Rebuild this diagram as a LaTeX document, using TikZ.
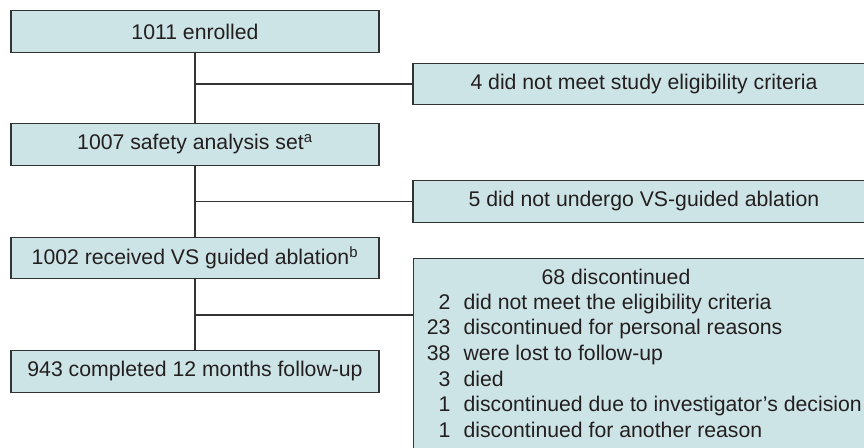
\documentclass[tikz,border=0pt]{standalone}
\usepackage{fontspec}
\setmainfont{Liberation Sans}
\usetikzlibrary{positioning}

\definecolor{boxfill}{RGB}{205,228,230}
\definecolor{boxline}{RGB}{51,51,51}
\definecolor{txt}{RGB}{35,31,32}

\tikzset{
  flowbox/.style={draw=boxline, fill=boxfill, line width=0.85pt, minimum height=1.03cm,
    inner sep=0pt, text=txt, font=\fontsize{15.1}{18.3}\selectfont},
  leftbox/.style={flowbox, minimum width=9.2cm},
  sidebox/.style={flowbox, minimum width=11.55cm},
  plain/.style={inner sep=0pt, text=txt, font=\fontsize{15.1}{18.3}\selectfont},
  link/.style={draw=boxline, line width=0.85pt}
}

\begin{document}
\begin{tikzpicture}[x=0.025cm, y=-0.025cm]
\useasboundingbox (0,0) rectangle (864,448);
\clip (0,0) rectangle (864,448);

% main column
\node[leftbox] (enrolled) at (195,31.5) {1011 enrolled};
\node[leftbox] (safety) at (195,144.5) {1007 safety analysis set\textsuperscript{a}};
\node[leftbox] (treated) at (195,258) {1002 received VS guided ablation\textsuperscript{b}};
\node[leftbox] (completed) at (195,371.5) {943 completed 12 months follow-up};

% exclusions
\node[sidebox] (noelig) at (644,84) {4 did not meet study eligibility criteria};
\node[sidebox] (noabl) at (644,201.5) {5 did not undergo VS-guided ablation};
\node[flowbox, anchor=north west, minimum width=12cm, minimum height=5cm] (disc) at (413,258) {};
\node[plain] (dhead) at (616,277) {68 discontinued};
\node[plain, anchor=base west] (dlist) at (426.5,309) {%
  \begin{tabular}[t]{@{}r@{\hspace{0.33cm}}l@{}}
  2 & did not meet the eligibility criteria\\
  23 & discontinued for personal reasons\\
  38 & were lost to follow-up\\
  3 & died\\
  1 & discontinued due to investigator’s decision\\
  1 & discontinued for another reason
  \end{tabular}};

% trunk
\draw[link] (enrolled) -- (safety);
\draw[link] (safety) -- (treated);
\draw[link] (treated) -- (completed);

% branches
\coordinate (j1) at (enrolled.south |- noelig.west);
\coordinate (j2) at (safety.south |- noabl.west);
\coordinate (j3) at (195,315);
\draw[link] (j1) -- (noelig.west);
\draw[link] (j2) -- (noabl.west);
\draw[link] (j3) -- (disc.west |- j3);
\end{tikzpicture}
\end{document}
